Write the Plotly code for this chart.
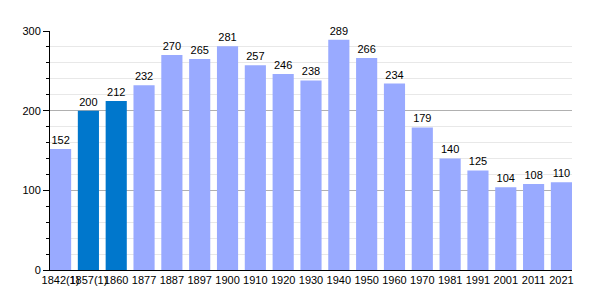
import plotly.graph_objects as go

years = ["1842(1)", "1857(1)", "1860", "1877", "1887", "1897", "1900", "1910", "1920", "1930",
         "1940", "1950", "1960", "1970", "1981", "1991", "2001", "2011", "2021"]
population = [152, 200, 212, 232, 270, 265, 281, 257, 246, 238, 289, 266, 234, 179, 140, 125, 104, 108, 110]
highlight = ["1857(1)", "1860"]

light = "#99AAFF"
dark = "#0077CC"
colors = [dark if y in highlight else light for y in years]

fig = go.Figure(go.Bar(
    x=list(range(len(years))), y=population,
    marker=dict(color=colors, line=dict(width=0)),
    width=0.76,
    text=[str(v) for v in population], textposition="outside",
    textfont=dict(family="Liberation Sans, Arial", size=11, color="black"),
    cliponaxis=False,
))

fig.update_layout(
    width=600, height=300,
    margin=dict(l=50, r=28, t=31, b=30),
    paper_bgcolor="white", plot_bgcolor="white",
    showlegend=False,
    font=dict(family="Liberation Sans, Arial", size=11, color="black"),
    xaxis=dict(
        range=[-0.38, len(years) - 1 + 0.38],
        tickmode="array", tickvals=list(range(len(years))), ticktext=years,
        tickangle=0, automargin=False,
        showline=True, linecolor="black", linewidth=1,
        showgrid=False, ticks="", zeroline=False,
        tickfont=dict(size=11),
    ),
    yaxis=dict(
        range=[0, 300], tickmode="array", tickvals=[0, 100, 200, 300],
        automargin=False,
        showline=True, linecolor="black", linewidth=1,
        ticks="outside", ticklen=6, tickcolor="black",
        showgrid=True, gridcolor="#b0b0b0", gridwidth=1,
        zeroline=False,
        minor=dict(dtick=20, tick0=0, ticks="outside", ticklen=3, tickcolor="black",
                   showgrid=True, gridcolor="#e8e8e8", gridwidth=1),
        tickfont=dict(size=11),
    ),
)

fig.write_html("out.html")
